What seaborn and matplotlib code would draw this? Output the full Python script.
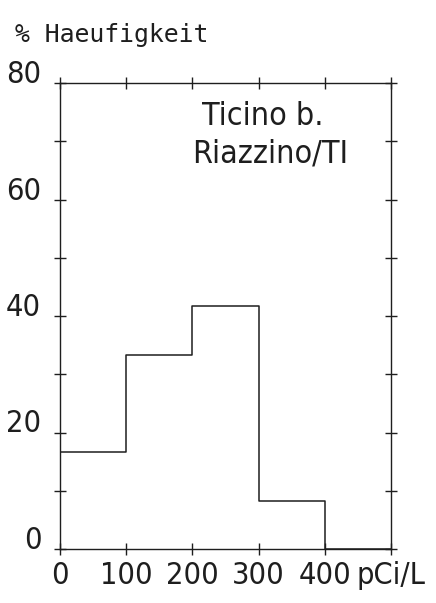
import matplotlib
matplotlib.use("Agg")
import matplotlib.pyplot as plt
from matplotlib import font_manager
import seaborn as sns
import numpy as np

# Data
bin_edges = [0, 100, 200, 300, 400, 500]
bin_centers = [50, 150, 250, 350, 450]
percent = [16.7, 33.3, 41.7, 8.3, 0.0]
x_ticks = [0, 100, 200, 300, 400, 500]
x_tick_labels = ["0", "100", "200", "300", "400", "pCi/L"]
y_ticks = [0, 10, 20, 30, 40, 50, 60, 70, 80]
y_tick_labels = ["0", "", "20", "", "40", "", "60", "", "80"]
y_title = "% Haeufigkeit"
station_lines = ["Ticino b.", "Riazzino/TI"]

sns.set_theme(style="white")

# pick a narrow face if one is installed
fl = font_manager.fontManager.ttflist
names = {f.name for f in fl}
cond_dejavu = any(f.name == "DejaVu Sans" and "condensed" in f.fname.lower() for f in fl)
if "Liberation Sans Narrow" in names:
    narrow = ["Liberation Sans Narrow", "DejaVu Sans"]
    stretch = "normal"
    tick_fs, box_fs = 23, 25
elif cond_dejavu:
    narrow = ["DejaVu Sans", "DejaVu Sans Mono"]
    stretch = "condensed"
    tick_fs, box_fs = 22, 23
else:
    narrow = ["DejaVu Sans Mono", "DejaVu Sans"]
    stretch = "normal"
    tick_fs, box_fs = 19, 18.5
mono = ["DejaVu Sans Mono", "DejaVu Sans"]
plt.rcParams["font.family"] = narrow

ink = "#1e1e1e"
W, H = 436, 603
fig = plt.figure(figsize=(W / 100, H / 100), dpi=100)
fig.patch.set_facecolor("white")
left, right, top, bottom = 60, 391, 83, 549
ax = fig.add_axes([left / W, 1 - bottom / H, (right - left) / W, (bottom - top) / H])
ax.set_facecolor("white")

sns.histplot(x=bin_centers, weights=percent, bins=bin_edges, element="step",
             fill=False, color=ink, linewidth=1.1, ax=ax, legend=False)

ax.set_xlim(0, 500)
ax.set_ylim(0, 80)
ax.set_xlabel("")
ax.set_ylabel("")

for s in ax.spines.values():
    s.set_visible(True)
    s.set_color(ink)
    s.set_linewidth(1.0)

ax.set_xticks(x_ticks)
ax.set_xticklabels(x_tick_labels)
ax.set_yticks(y_ticks)
ax.set_yticklabels(y_tick_labels)
ax.tick_params(axis="both", which="both", direction="inout", length=9, width=1.0,
               color=ink, labelcolor=ink, labelsize=tick_fs)
ax.tick_params(axis="x", top=True, bottom=True, pad=4)
ax.tick_params(axis="y", left=True, right=True, pad=9)
for lab in ax.get_yticklabels():
    lab.set_verticalalignment("baseline")
    lab.set_family(narrow)
    lab.set_fontstretch(stretch)
for lab in ax.get_xticklabels():
    lab.set_family(narrow)
    lab.set_fontstretch(stretch)

# station name inside the plot
ax.text(214, 72.8, station_lines[0], fontsize=box_fs, color=ink, ha="left", va="baseline",
        family=narrow, fontstretch=stretch)
ax.text(199, 66.3, station_lines[1], fontsize=box_fs, color=ink, ha="left", va="baseline",
        family=narrow, fontstretch=stretch)

# y title
fig.text(15 / W, 1 - 42 / H, y_title, fontsize=17.8, color=ink, ha="left", va="baseline", family=mono)

fig.savefig("out.png", dpi=100, facecolor="white")
